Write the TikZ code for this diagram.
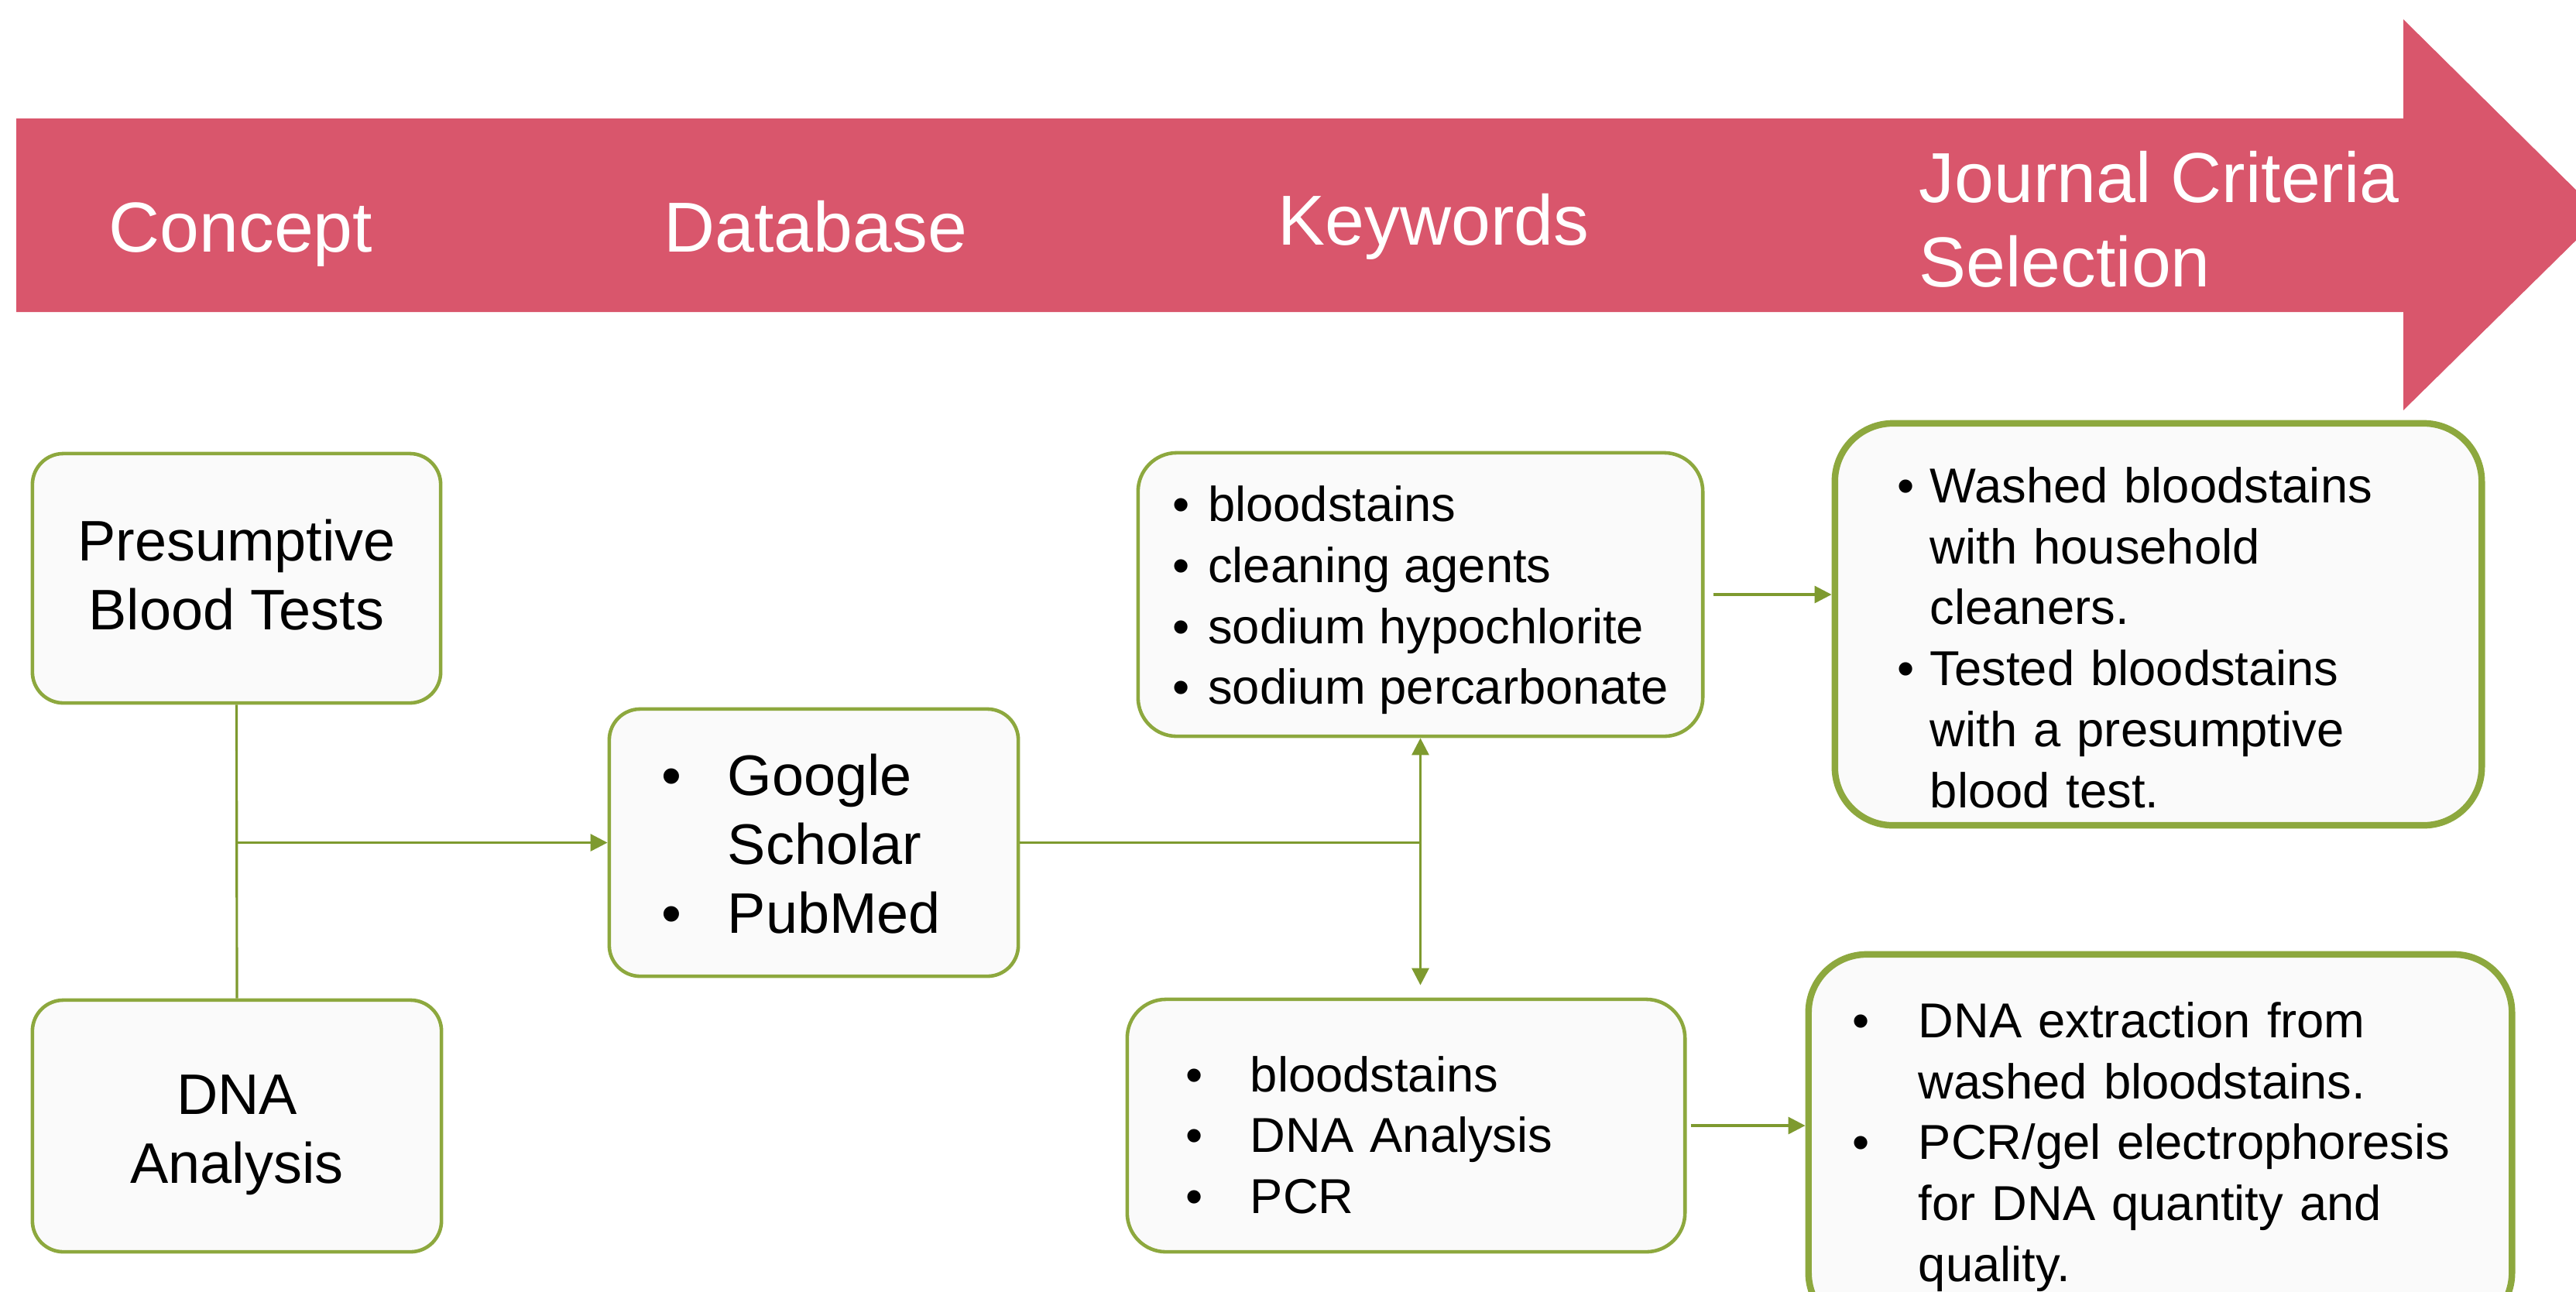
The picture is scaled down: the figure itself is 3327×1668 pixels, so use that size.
\documentclass[tikz,border=0pt]{standalone}
\usepackage{fontspec}
\setmainfont{Liberation Sans}
\usetikzlibrary{arrows.meta}

\definecolor{banner}{HTML}{D9566C}
\definecolor{olive}{HTML}{8DA83E}
\definecolor{wire}{HTML}{7E9A2F}
\definecolor{paper}{HTML}{FAFAFA}

\newcommand{\bul}[1]{\makebox[#1][l]{\textbullet}}
\newcommand{\drop}[2]{\raisebox{-#1}[\height][\depth]{#2}}

\begin{document}
\begin{tikzpicture}[x=0.01cm, y=-0.01cm,
	box/.style={draw=olive, fill=paper, line width=1.3pt, rounded corners=0.4cm, inner sep=0pt, font=\fontsize{21}{25.3}\selectfont},
	listbox/.style={box, font=\fontsize{18}{22.4}\selectfont, rounded corners=0.5cm},
	widebox/.style={listbox, line width=2.4pt, rounded corners=0.75cm},
	stage/.style={text=white, font=\fontsize{26}{31}\selectfont, inner sep=0pt, align=left},
	link/.style={draw=wire, line width=0.9pt},
	tip/.style={-{Triangle[width=0.22cm, length=0.22cm]}}
]

	\useasboundingbox (0,0) rectangle (3327,1668);

	% Timeline arrow

	\fill[banner] (21,153) -- (3104,153) -- (3104,25) -- (3360,278) -- (3104,530) -- (3104,403) -- (21,403) -- cycle;

	\node[stage, anchor=base west] (concept) at (140,325) {Concept};
	\node[stage, anchor=base west] (database) at (857,325) {Database};
	\node[stage, anchor=base west] (keywords) at (1650,316) {Keywords};
	\node[stage, anchor=base west] (criteria) at (2478,370) {Journal Criteria\\Selection};

	% Boxes

	\node[box, minimum width=5.27cm, minimum height=3.22cm] (pbt) at (305.5,747)
		{\drop{0.04cm}{\begin{tabular}{@{}c@{}}Presumptive\\Blood Tests\end{tabular}}};
	\node[box, minimum width=5.28cm, minimum height=3.25cm] (dna) at (306,1454.5)
		{\drop{0.12cm}{\begin{tabular}{@{}c@{}}DNA\\Analysis\end{tabular}}};

	\node[box, minimum width=5.28cm, minimum height=3.45cm, text width=3.92cm, inner xsep=0.68cm, align=left] (db) at (1051,1088.5)
		{\drop{0.1cm}{\begin{tabular}{@{}l@{}l@{}}
			\bul{0.85cm} & Google\\
			& Scholar\\
			\bul{0.85cm} & PubMed
		\end{tabular}}};

	\node[listbox, minimum width=7.29cm, minimum height=3.66cm] (kwa) at (1834.5,768)
		{\drop{0.08cm}{\begin{tabular}{@{}l@{}l@{}}
			\bul{0.46cm} & bloodstains\\
			\bul{0.46cm} & cleaning agents\\
			\bul{0.46cm} & sodium hypochlorite\\
			\bul{0.46cm} & sodium percarbonate
		\end{tabular}}};

	\node[listbox, minimum width=7.2cm, minimum height=3.26cm, text width=5.68cm, inner xsep=0.76cm, align=left] (kwb) at (1816,1454)
		{\drop{0.19cm}{\begin{tabular}{@{}l@{}l@{}}
			\bul{0.83cm} & bloodstains\\
			\bul{0.83cm} & DNA Analysis\\
			\bul{0.83cm} & PCR
		\end{tabular}}};

	\node[widebox, minimum width=8.35cm, minimum height=5.19cm, text width=6.73cm, inner xsep=0.81cm, align=left] (jca) at (2787.5,806.5)
		{\drop{0.24cm}{\begin{tabular}{@{}l@{}l@{}}
			\bul{0.42cm} & Washed bloodstains\\
			& with household\\
			& cleaners.\\
			\bul{0.42cm} & Tested bloodstains\\
			& with a presumptive\\
			& blood test.
		\end{tabular}}};

	\node[widebox, minimum width=9.08cm, minimum height=4.86cm, text width=7.94cm, inner xsep=0.57cm, align=left] (jcb) at (2790,1476)
		{\drop{0.06cm}{\begin{tabular}{@{}l@{}l@{}}
			\bul{0.85cm} & DNA extraction from\\
			& washed bloodstains.\\
			\bul{0.85cm} & PCR/gel electrophoresis\\
			& for DNA quantity and\\
			& quality.
		\end{tabular}}};

	% Connectors

	\coordinate (join) at (pbt.south |- db.west);
	\coordinate (split) at (kwa.south |- db.east);

	\draw[link] (pbt.south) -- (dna.north);
	\draw[link, tip] (join) -- (db.west);
	\draw[link] (db.east) -- (split);
	\draw[link, tip] (split) -- (kwa.south);
	\draw[link, tip, shorten >=0.16cm] (split) -- (split |- kwb.north);
	\draw[link, tip, shorten <=0.11cm] (kwa.east) -- (kwa.east -| jca.west);
	\draw[link, tip, shorten <=0.05cm] (kwb.east) -- (kwb.east -| jcb.west);

\end{tikzpicture}
\end{document}
